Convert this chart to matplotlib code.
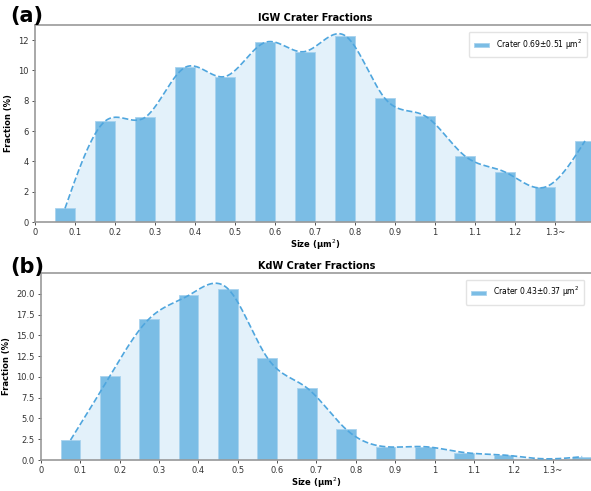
import numpy as np
import matplotlib
matplotlib.use("Agg")
import matplotlib.pyplot as plt

bin_left = [0.05, 0.15, 0.25, 0.35, 0.45, 0.55, 0.65, 0.75, 0.85, 0.95, 1.05, 1.15, 1.25, 1.35]
tick_pos = [0, 0.1, 0.2, 0.3, 0.4, 0.5, 0.6, 0.7, 0.8, 0.9, 1.0, 1.1, 1.2, 1.3]
tick_labels = ["0", "0.1", "0.2", "0.3", "0.4", "0.5", "0.6", "0.7", "0.8", "0.9",
               "1", "1.1", "1.2", "1.3~"]

igw_frac = [0.9, 6.65, 6.9, 10.2, 9.6, 11.85, 11.25, 12.3, 8.15, 7.0, 4.35, 3.3, 2.3, 5.35]
kdw_frac = [2.4, 10.1, 17.0, 19.8, 20.6, 12.3, 8.7, 3.7, 1.6, 1.6, 0.9, 0.6, 0.15, 0.4]

igw_label = "Crater 0.69±0.51 μm$^2$"
kdw_label = "Crater 0.43±0.37 μm$^2$"

BAR = "#7bbde5"
LIGHT = "#e3f1fa"
LINE = "#4fa6de"
WIDTH = 0.05


def natural_spline(x, y, xs):
    x = np.asarray(x, float)
    y = np.asarray(y, float)
    n = len(x)
    h = np.diff(x)
    A = np.zeros((n, n))
    b = np.zeros(n)
    A[0, 0] = A[-1, -1] = 1.0
    for i in range(1, n - 1):
        A[i, i - 1] = h[i - 1]
        A[i, i] = 2 * (h[i - 1] + h[i])
        A[i, i + 1] = h[i]
        b[i] = 3 * ((y[i + 1] - y[i]) / h[i] - (y[i] - y[i - 1]) / h[i - 1])
    c = np.linalg.solve(A, b)
    idx = np.clip(np.searchsorted(x, xs) - 1, 0, n - 2)
    dx = xs - x[idx]
    bb = (y[idx + 1] - y[idx]) / h[idx] - h[idx] * (2 * c[idx] + c[idx + 1]) / 3
    d = (c[idx + 1] - c[idx]) / (3 * h[idx])
    return y[idx] + bb * dx + c[idx] * dx ** 2 + d * dx ** 3


def panel(ax, vals, title, label, ytop):
    centers = np.array(bin_left) + WIDTH / 2
    xs = np.linspace(centers[0], centers[-1], 400)
    ys = np.clip(natural_spline(centers, vals, xs), 0, None)
    ax.fill_between(xs, 0, ys, color=LIGHT, zorder=1, lw=0)
    ax.bar(bin_left, vals, width=WIDTH, align="edge", color=BAR,
           edgecolor="#a9d3ee", linewidth=0.6, zorder=2, label=label)
    ax.plot(xs, ys, ls="--", color=LINE, lw=1.2, zorder=3)
    ax.set_xlim(0, 1.4)
    ax.set_ylim(0, ytop)
    ax.set_xticks(tick_pos)
    ax.set_xticklabels(tick_labels)
    ax.tick_params(labelsize=6, length=2.5, pad=2, colors="#333333", width=0.6)
    ax.set_title(title, fontsize=7, fontweight="bold", pad=3)
    ax.set_xlabel("Size (μm$^2$)", fontsize=6, fontweight="bold", labelpad=0.5)
    ax.set_ylabel("Fraction (%)", fontsize=6, fontweight="bold", labelpad=4)
    for s in ax.spines.values():
        s.set_color("#999999")
        s.set_linewidth(1.2)
    ax.legend(loc="upper right", fontsize=5.5, frameon=True, handlelength=2.0,
              handleheight=0.4, borderpad=0.7, edgecolor="#dddddd",
              bbox_to_anchor=(0.993, 0.985))


fig = plt.figure(figsize=(5.91, 4.91), dpi=100)
W, H = 591.0, 491.0
ax1 = fig.add_axes([35 / W, 1 - 222 / H, 560 / W, 197 / H])
ax2 = fig.add_axes([41 / W, 1 - 460 / H, 551 / W, 187 / H])

panel(ax1, igw_frac, "IGW Crater Fractions", igw_label, 13.0)
panel(ax2, kdw_frac, "KdW Crater Fractions", kdw_label, 22.5)
ax1.set_yticks([0, 2, 4, 6, 8, 10, 12])
ax2.set_yticks([0, 2.5, 5, 7.5, 10, 12.5, 15, 17.5, 20])
ax2.set_yticklabels(["0.0", "2.5", "5.0", "7.5", "10.0", "12.5", "15.0", "17.5", "20.0"])

fig.text(10 / W, 1 - 16 / H, "(a)", fontsize=15, fontweight="bold", va="center")
fig.text(10 / W, 1 - 267 / H, "(b)", fontsize=15, fontweight="bold", va="center")

fig.savefig("out.png", dpi=100)
